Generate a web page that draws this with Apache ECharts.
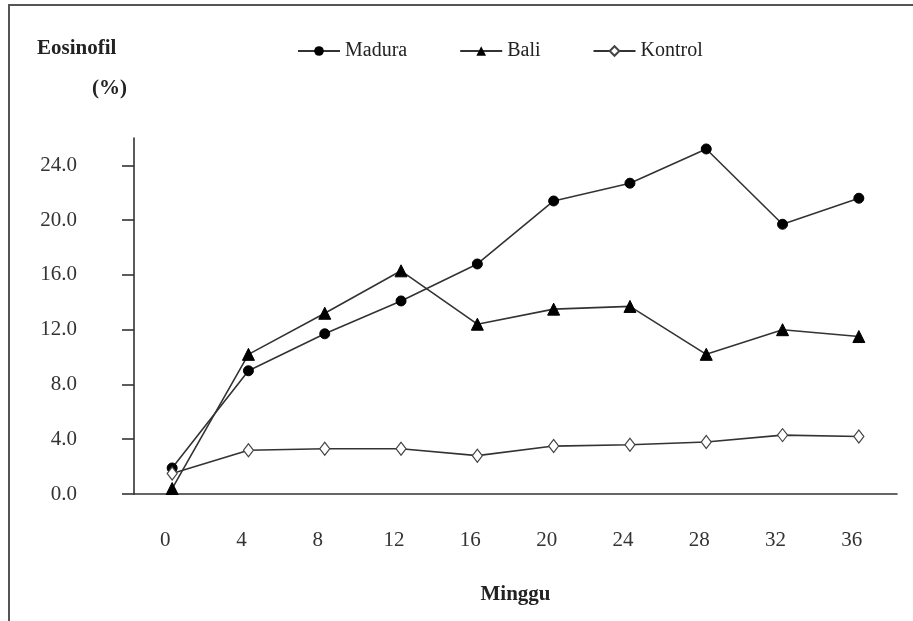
<!DOCTYPE html>
<html>
<head>
<meta charset="utf-8">
<script src="https://cdn.jsdelivr.net/npm/echarts@6/dist/echarts.min.js"></script>
<style>
html,body{margin:0;padding:0;background:#fff;}
#c{width:913px;height:621px;}
</style>
</head>
<body>
<div id="c"></div>
<script>
var weeks = ['0','4','8','12','16','20','24','28','32','36'];
var madura = [1.9, 9.0, 11.7, 14.1, 16.8, 21.4, 22.7, 25.2, 19.7, 21.6];
var bali = [0.4, 10.2, 13.2, 16.3, 12.4, 13.5, 13.7, 10.2, 12.0, 11.5];
var kontrol = [1.5, 3.2, 3.3, 3.3, 2.8, 3.5, 3.6, 3.8, 4.3, 4.2];
var yTicks = [0, 4, 8, 12, 16, 20, 24];

var serif = '"Liberation Serif", "Times New Roman", serif';
var chart = echarts.init(document.getElementById('c'));
var lineStyle = {color: '#333', width: 1.6};
chart.setOption({
  backgroundColor: '#fff',
  animation: false,
  title: [
    {text: 'Eosinofil', left: 32, top: 33, textStyle: {fontFamily: serif, fontSize: 21, fontWeight: 'bold', color: '#222'}},
    {text: '(%)', left: 87, top: 73, textStyle: {fontFamily: serif, fontSize: 21, fontWeight: 'bold', color: '#222'}}
  ],
  legend: {
    left: 292, top: 36,
    itemWidth: 42, itemHeight: 12, itemGap: 52,
    textStyle: {fontFamily: serif, fontSize: 20, color: '#222'},
    data: ['Madura', 'Bali', 'Kontrol']
  },
  graphic: [
    {type: 'line', shape: {x1: 8, y1: 5, x2: 913, y2: 5}, style: {stroke: '#555', lineWidth: 2}},
    {type: 'line', shape: {x1: 9, y1: 5, x2: 9, y2: 621}, style: {stroke: '#555', lineWidth: 2}}
  ],
  grid: {left: 134, right: 16, top: 138, bottom: 127},
  xAxis: {
    type: 'category',
    data: weeks,
    boundaryGap: true,
    name: 'Minggu',
    nameLocation: 'middle',
    nameGap: 90,
    nameTextStyle: {fontFamily: serif, fontSize: 21, fontWeight: 'bold', color: '#222'},
    axisLine: {lineStyle: {color: '#333', width: 1.6}},
    axisTick: {length: 11, lineStyle: {color: '#333', width: 1.6}},
    axisLabel: {margin: 36, fontFamily: serif, fontSize: 21, color: '#333', padding: [0, 14, 0, 0]},
    splitLine: {show: false}
  },
  yAxis: {
    type: 'value',
    min: 0, max: 26, interval: 4,
    axisLine: {show: true, lineStyle: {color: '#333', width: 1.6}},
    axisTick: {show: true, length: 12, lineStyle: {color: '#333', width: 1.6}, customValues: yTicks},
    axisLabel: {margin: 57, fontFamily: serif, fontSize: 21, color: '#333', customValues: yTicks,
      formatter: function (v) { return v.toFixed(1); }},
    splitLine: {show: false}
  },
  series: [
    {name: 'Madura', type: 'line', data: madura, symbol: 'circle', symbolSize: 10,
      lineStyle: lineStyle, itemStyle: {color: '#000', borderColor: '#000'}},
    {name: 'Bali', type: 'line', data: bali, symbol: 'triangle', symbolSize: 12,
      lineStyle: lineStyle, itemStyle: {color: '#000', borderColor: '#000'}},
    {name: 'Kontrol', type: 'line', data: kontrol, symbol: 'diamond', symbolSize: [10, 13],
      lineStyle: lineStyle, itemStyle: {color: '#fff', borderColor: '#444', borderWidth: 1.2}}
  ]
});
</script>
</body>
</html>
